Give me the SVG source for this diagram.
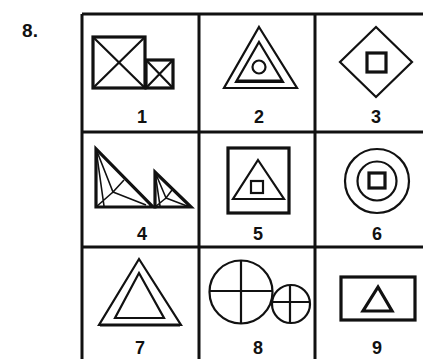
<svg xmlns="http://www.w3.org/2000/svg" width="423" height="359" viewBox="0 0 423 359">
<style>
.g{stroke:#111;stroke-width:3;fill:none}
.s{stroke:#111;stroke-width:2.2;fill:none;stroke-linejoin:miter}
.t{stroke:#111;stroke-width:3.2;fill:none;stroke-linejoin:miter}
.l{stroke:#111;stroke-width:1.6;fill:none}
.n{font-family:"Liberation Sans",Arial,sans-serif;font-weight:bold;font-size:18px;fill:#111;text-anchor:middle}
</style>
<rect width="423" height="359" fill="#fff"/>
<text x="30" y="37" class="n" style="font-size:19px">8.</text>
<g id="grid">
<path class="g" d="M82,14H423M82,132H423M82,247H423M82,14V359M199,14V359M315,14V359"/>
</g>
<g id="fig1">
<rect class="t" x="93" y="37" width="52" height="51"/>
<path class="s" d="M93,37L145,88M145,37L93,88"/>
<rect class="t" x="146" y="60" width="27" height="28"/>
<path class="s" d="M146,60L173,88M173,60L146,88"/>
<text class="n" x="142" y="123">1</text>
</g>
<g id="fig2">
<polygon class="s" points="259,27 297,88 224,88"/>
<polygon class="s" points="259,42 283,82 236,82"/>
<path class="t" d="M238,81H282"/>
<circle class="s" cx="259" cy="67" r="6.5"/>
<text class="n" x="259" y="123">2</text>
</g>
<g id="fig3">
<polygon class="s" points="376,27 412,62 376,97 340,62"/>
<rect class="t" x="367" y="53" width="19" height="19"/>
<text class="n" x="376" y="123">3</text>
</g>
<g id="fig4">
<polygon class="t" points="96,149 96,207 153,207"/>
<path class="l" d="M96,149L113,192L124,180M113,192L96,207M113,192L146,205M96,149L104,206"/>
<polygon class="t" points="155,172 155,207 191,207"/>
<path class="l" d="M155,172L166,198L172,190M166,198L155,207M166,198L187,206M155,172L160,206"/>
<text class="n" x="142" y="240">4</text>
</g>
<g id="fig5">
<rect class="t" x="228" y="148" width="61" height="65"/>
<polygon class="s" points="258,160 284,199 233,199"/>
<rect class="s" x="251" y="181" width="12" height="12"/>
<text class="n" x="258" y="240">5</text>
</g>
<g id="fig6">
<circle class="s" cx="377" cy="181" r="32"/>
<circle class="s" cx="377" cy="181" r="19.5"/>
<rect class="t" x="369" y="173" width="16" height="15"/>
<text class="n" x="377" y="240">6</text>
</g>
<g id="fig7">
<polygon class="s" points="139,259 181,325 99,325"/>
<path class="t" d="M100,325H180"/>
<polygon class="s" points="139,273 164,318 115,318"/>
<text class="n" x="140" y="354">7</text>
</g>
<g id="fig8">
<circle class="s" cx="241" cy="292" r="31.5"/>
<path class="s" d="M241,260.5V323.5M209.5,291H272.5"/>
<circle class="s" cx="291" cy="304" r="19"/>
<path class="s" d="M290,285V323M272,302H310"/>
<text class="n" x="258" y="354">8</text>
</g>
<g id="fig9">
<rect class="t" x="341" y="277" width="74" height="43"/>
<polygon class="t" points="378,287 392,311 363,311"/>
<text class="n" x="377" y="354">9</text>
</g>
</svg>
